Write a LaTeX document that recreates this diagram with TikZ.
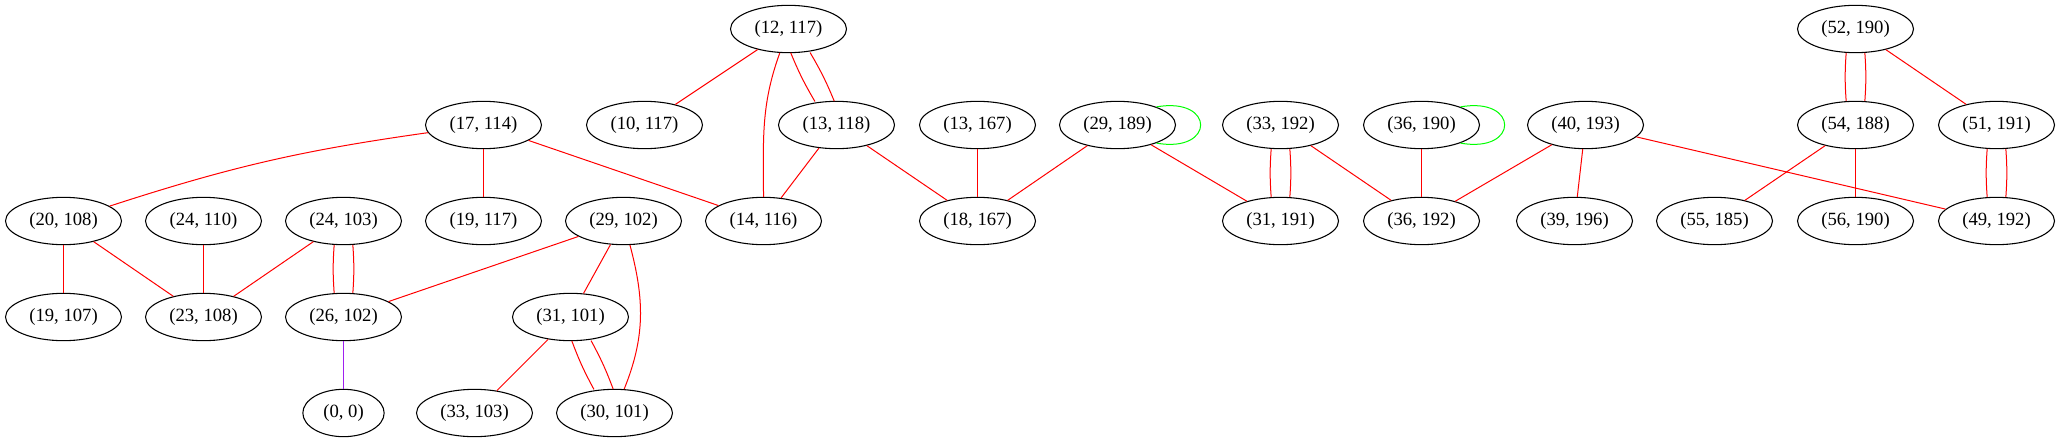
\documentclass[tikz,border=0pt]{standalone}
\usepackage{fontspec}
\setmainfont{Liberation Serif}
\usetikzlibrary{shapes.geometric}
\definecolor{gvpurple}{HTML}{A020F0}
\begin{document}
\begin{tikzpicture}[x=0.75pt,y=-0.75pt,
		vtx/.style={draw,ellipse,line width=0.8pt,minimum width=87pt,minimum height=35.5pt,inner sep=0pt,font=\fontsize{14}{16}\selectfont},
		link/.style={red,line width=0.75pt},
		pl/.style={transform canvas={xshift=-5.75pt},bend right=4},
		pr/.style={transform canvas={xshift=5.75pt},bend left=4},
		loopy/.style={green,line width=0.75pt}]
		\useasboundingbox (0,0) rectangle (2056,443);
		\begin{scope}[xshift=0.375pt]
		\foreach \a/\b/\x/\y in {12/117/788/29,52/190/1855/29,
			17/114/483/125,10/117/644/125,13/118/836/125,13/167/977/125,29/189/1117/125,33/192/1280/125,
			36/190/1421/125,40/193/1585/125,54/188/1855/125,51/191/1996/125,
			20/108/63/221,24/110/203/221,24/103/343/221,19/117/483/221,29/102/623/221,14/116/763/221,
			18/167/977/221,31/191/1280/221,36/192/1421/221,39/196/1574/221,55/185/1714/221,56/190/1855/221,49/192/1996/221,
			19/107/63/317,23/108/203/317,26/102/343/317,31/101/570/317,
			33/103/474/413,30/101/614/413}{
			\node[vtx] (\a-\b) at (\x,\y) {(\a, \b)};
		}
		\node[vtx,minimum width=61pt] (0-0) at (343,413) {(0, 0)};
		\foreach \u/\v in {17-114/19-117,17-114/14-116,12-117/10-117,13-118/14-116,13-118/18-167,
			13-167/18-167,29-189/18-167,29-189/31-191,33-192/36-192,36-190/36-192,40-193/36-192,
			40-193/39-196,40-193/49-192,52-190/51-191,54-188/55-185,54-188/56-190,20-108/19-107,
			20-108/23-108,24-110/23-108,24-103/23-108,29-102/26-102,29-102/31-101,31-101/33-103}{
			\draw[link] (\u) -- (\v);
		}
		\foreach \u/\v in {12-117/13-118,33-192/31-191,52-190/54-188,51-191/49-192,24-103/26-102,31-101/30-101}{
			\draw[link,pl] (\u) to (\v);
			\draw[link,pr] (\u) to (\v);
		}
		\draw[link] (17-114) to[bend right=5] (20-108);
		\draw[link] (12-117) to[out=-110,in=90] (14-116);
		\draw[link] (29-102) to[out=-75,in=68] (30-101);
		\draw[gvpurple,line width=0.75pt] (26-102) -- (0-0);
		\draw[loopy] (29-189.25) .. controls +(10:45pt) and +(-10:45pt) .. (29-189.-25);
		\draw[loopy] (36-190.25) .. controls +(10:45pt) and +(-10:45pt) .. (36-190.-25);
		\end{scope}
	\end{tikzpicture}
\end{document}
